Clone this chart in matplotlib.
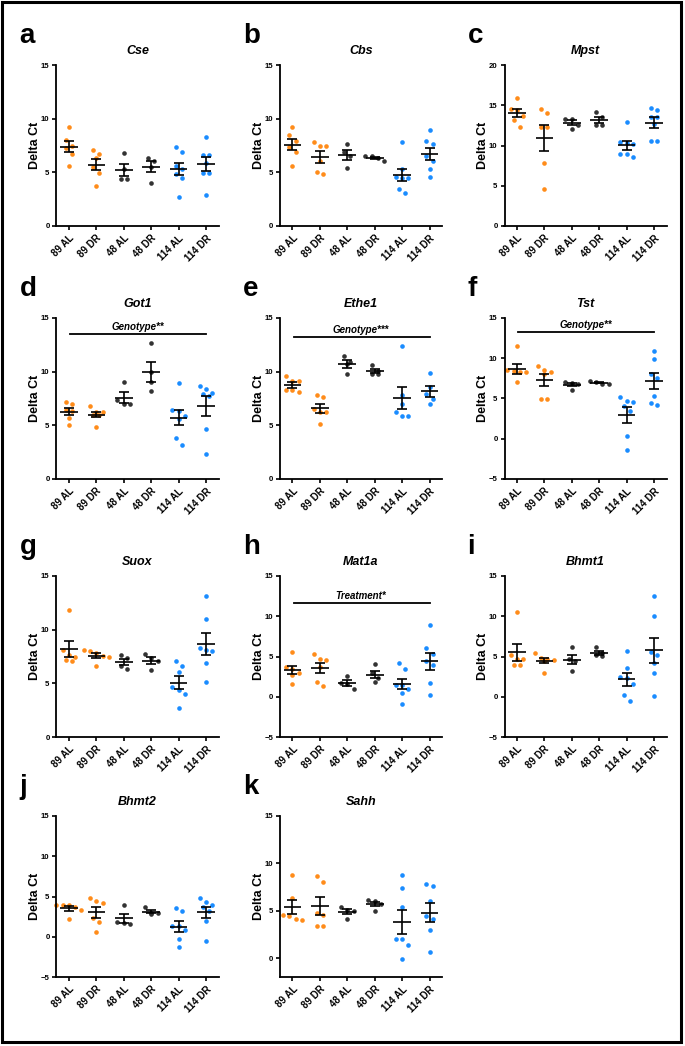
#!/usr/bin/env python3
# -*- coding: utf-8 -*-

'''
Delta Ct scatter panels (a-k) with mean and SEM, 6 groups per gene
'''
import numpy as np
import matplotlib
matplotlib.use('Agg')
import matplotlib.pyplot as plt
from matplotlib.patches import Rectangle

plt.rcParams['font.family'] = ['Liberation Sans', 'DejaVu Sans']
plt.rcParams['font.weight'] = 'bold'

groups = ['89 AL', '89 DR', '48 AL', '48 DR', '114 AL', '114 DR']
group_colors = ['#FF8C1A', '#FF8C1A', '#333333', '#333333', '#1A8CFF', '#1A8CFF']

# values per group
cse = [[9.2, 8.0, 7.5, 7.3, 6.7, 5.6],
       [7.1, 6.7, 6.3, 5.5, 4.9, 3.7],
       [6.8, 5.3, 4.4, 4.35],
       [6.35, 6.1, 5.5, 4.05],
       [7.4, 6.9, 5.6, 5.3, 4.8, 4.5, 2.7],
       [8.3, 6.65, 6.65, 5.9, 4.95, 4.95, 2.9]]
cbs = [[9.2, 8.5, 7.9, 7.4, 6.9, 5.6],
       [7.8, 7.5, 7.45, 6.05, 5.0, 4.8],
       [7.6, 6.9, 6.5, 5.4],
       [6.5, 6.5, 6.3, 6.1],
       [7.85, 5.35, 4.55, 4.5, 4.5, 3.45, 3.1],
       [8.95, 7.95, 7.6, 6.55, 6.1, 5.3, 4.55]]
mpst = [[15.9, 14.5, 14.4, 13.7, 13.15, 12.3],
        [14.55, 14.0, 12.3, 12.3, 7.8, 4.65],
        [13.35, 13.25, 12.6, 12.0],
        [14.15, 13.5, 12.5, 12.5],
        [12.9, 10.45, 10.25, 10.2, 9.0, 8.9, 8.6],
        [14.7, 14.4, 13.55, 13.55, 12.65, 10.55, 10.55]]
got1 = [[7.2, 6.95, 6.4, 6.3, 5.7, 5.0],
        [6.8, 6.25, 6.2, 6.0, 5.95, 4.85],
        [9.0, 7.4, 6.95, 6.95],
        [12.65, 10.0, 9.05, 8.2],
        [8.9, 6.4, 6.35, 5.85, 5.55, 3.85, 3.2],
        [8.7, 8.35, 8.05, 7.9, 7.7, 4.65, 2.35]]
ethe1 = [[9.6, 9.1, 9.1, 8.3, 8.3, 8.15],
         [7.8, 7.6, 6.5, 6.2, 6.2, 5.15],
         [11.5, 10.9, 10.75, 9.8],
         [10.65, 10.1, 9.8, 9.8],
         [12.4, 7.8, 7.0, 6.2, 5.9, 5.9],
         [9.9, 8.6, 7.9, 7.45, 7.0]]
tst = [[11.55, 8.5, 8.45, 8.3, 8.3, 7.0],
       [9.05, 8.5, 8.35, 8.0, 4.9, 4.9],
       [7.1, 6.9, 6.85, 6.1],
       [7.15, 7.0, 6.85, 6.8],
       [5.15, 4.7, 4.55, 4.05, 3.4, 0.3, -1.45],
       [10.95, 9.9, 8.0, 7.55, 5.35, 4.45, 4.25]]
suox = [[11.85, 8.1, 7.65, 7.5, 7.15, 7.05],
        [8.1, 8.0, 7.8, 7.55, 7.45, 6.65],
        [7.6, 7.4, 6.6, 6.35],
        [7.75, 7.35, 7.1, 6.2],
        [7.1, 6.65, 6.05, 4.65, 4.35, 4.0, 2.7],
        [13.15, 11.0, 8.25, 8.1, 8.05, 6.85, 5.15]]
mat1a = [[5.5, 3.7, 3.5, 3.0, 2.75, 1.55],
         [5.35, 4.7, 4.55, 3.75, 1.8, 1.35],
         [2.6, 1.7, 1.6, 1.0],
         [4.05, 2.9, 2.3, 1.8],
         [4.2, 3.5, 1.5, 1.4, 0.95, 0.5, -0.85],
         [8.95, 6.0, 5.35, 4.4, 4.0, 1.75, 0.25]]
bhmt1 = [[10.5, 5.15, 4.7, 4.65, 4.0, 4.0],
         [5.4, 4.85, 4.7, 4.6, 4.5, 2.95],
         [6.15, 4.7, 4.4, 3.25],
         [6.15, 5.4, 5.2, 5.1],
         [5.65, 3.55, 2.4, 2.35, 1.6, 0.2, -0.55],
         [12.5, 10.0, 5.5, 5.15, 4.15, 2.9, 0.05]]
bhmt2 = [[4.0, 4.0, 4.0, 3.7, 3.35, 2.2],
         [4.85, 4.45, 4.15, 2.3, 1.85, 0.6],
         [4.0, 1.85, 1.7, 1.6],
         [3.75, 3.0, 2.9, 2.85],
         [3.6, 3.25, 1.35, 1.3, 0.85, -0.3, -1.3],
         [4.8, 4.35, 3.95, 3.65, 3.2, 1.9, -0.55]]
sahh = [[8.75, 6.35, 4.55, 4.45, 4.1, 4.0],
        [8.65, 8.0, 4.8, 4.55, 3.4, 3.4],
        [5.35, 5.1, 4.95, 4.1],
        [6.1, 6.0, 5.7, 5.0],
        [8.75, 7.45, 5.35, 2.05, 2.05, 1.35, -0.1],
        [7.8, 7.65, 6.0, 4.45, 4.1, 2.95, 0.65]]

# letter, gene, data, y limits, y ticks, (annotation text, line level)
panels = [
    ('a', 'Cse', cse, (0, 15), [0, 5, 10, 15], None),
    ('b', 'Cbs', cbs, (0, 15), [0, 5, 10, 15], None),
    ('c', 'Mpst', mpst, (0, 20), [0, 5, 10, 15, 20], None),
    ('d', 'Got1', got1, (0, 15), [0, 5, 10, 15], ('Genotype**', 13.5)),
    ('e', 'Ethe1', ethe1, (0, 15), [0, 5, 10, 15], ('Genotype***', 13.2)),
    ('f', 'Tst', tst, (-5, 15), [-5, 0, 5, 10, 15], ('Genotype**', 13.2)),
    ('g', 'Suox', suox, (0, 15), [0, 5, 10, 15], None),
    ('h', 'Mat1a', mat1a, (-5, 15), [-5, 0, 5, 10, 15], ('Treatment*', 11.6)),
    ('i', 'Bhmt1', bhmt1, (-5, 15), [-5, 0, 5, 10, 15], None),
    ('j', 'Bhmt2', bhmt2, (-5, 15), [-5, 0, 5, 10, 15], None),
    ('k', 'Sahh', sahh, (-2, 15), [0, 5, 10, 15], None),
]

W, H = 685, 1046
col_left = [56.5, 280, 504.5]
row_top = [65, 318, 576, 816]
ax_w, ax_h = 162, 161


def spread(vals, ax, row_px=7.0, step_px=6.3):
    # GraphPad-like spreading: points in the same vertical row are placed side by side
    vals = np.asarray(vals, dtype=float)
    y_px = ax.transData.transform(np.column_stack([np.zeros(len(vals)), vals]))[:, 1]
    order = np.argsort(-vals, kind='stable')
    rows = []
    cur = [order[0]]
    for k in order[1:]:
        if y_px[cur[0]] - y_px[k] < row_px:
            cur.append(k)
        else:
            rows.append(cur)
            cur = [k]
    rows.append(cur)
    offsets = np.zeros(len(vals))
    for r in rows:
        n = len(r)
        for j, k in enumerate(r):
            offsets[k] = (j - (n - 1) / 2) * step_px
    x0 = ax.transData.transform([[0, 0]])[0, 0]
    x1 = ax.transData.transform([[1, 0]])[0, 0]
    return offsets / (x1 - x0)


fig = plt.figure(figsize=(W / 100, H / 100), dpi=100)

for idx, (letter, gene, data, ylim, yticks, annot) in enumerate(panels):
    r, c = divmod(idx, 3)
    left, top = col_left[c], row_top[r]
    ax = fig.add_axes([left / W, 1 - (top + ax_h) / H, ax_w / W, ax_h / H])
    ax.set_xlim(-0.45, 5.45)
    ax.set_ylim(*ylim)
    for s in ['top', 'right']:
        ax.spines[s].set_visible(False)
    for s in ['left', 'bottom']:
        ax.spines[s].set_linewidth(1.3)
    ax.set_yticks(yticks)
    ax.set_xticks(range(len(groups)))
    ax.set_xticklabels(groups, rotation=45, ha='right', va='top',
                       rotation_mode='anchor', fontsize=7, fontweight='bold')
    ax.tick_params(axis='y', labelsize=5.6, width=1.2, length=3, pad=2)
    ax.tick_params(axis='x', width=1.2, length=3, pad=2)
    ax.set_ylabel('Delta Ct', fontsize=9, fontweight='bold')
    ax.yaxis.set_label_coords(-15.5 / ax_w, 0.5)
    ax.set_title(gene, fontsize=9, fontweight='bold', style='italic', pad=8)

    for i, vals in enumerate(data):
        off = spread(vals, ax)
        ax.scatter(i + off, vals, s=11, color=group_colors[i], linewidths=0,
                   zorder=2, clip_on=False)
        m = np.mean(vals)
        sem = np.std(vals, ddof=1) / np.sqrt(len(vals))
        ax.hlines(m, i - 0.32, i + 0.32, color='black', lw=1.2, zorder=3)
        ax.errorbar(i, m, yerr=sem, fmt='none', ecolor='black', elinewidth=1.2,
                    capsize=3.7, capthick=1.2, zorder=3)

    if annot is not None:
        text, level = annot
        ax.plot([0.05, 5.0], [level, level], color='black', lw=1.3, clip_on=False)
        ax.annotate(text, (2.5, level), xytext=(0, 1.5), textcoords='offset points',
                    ha='center', va='bottom', fontsize=7, fontweight='bold',
                    style='italic')

    fig.text((left - 37) / W, 1 - (top - 22) / H, letter, fontsize=20,
             fontweight='bold', va='baseline', ha='left')

# outer frame
fig.patches.append(Rectangle((1.5 / W, 4.0 / H), 679 / W, 1040.5 / H,
                             transform=fig.transFigure, fill=False,
                             edgecolor='black', lw=2.2))

fig.savefig('out.png', dpi=100)
